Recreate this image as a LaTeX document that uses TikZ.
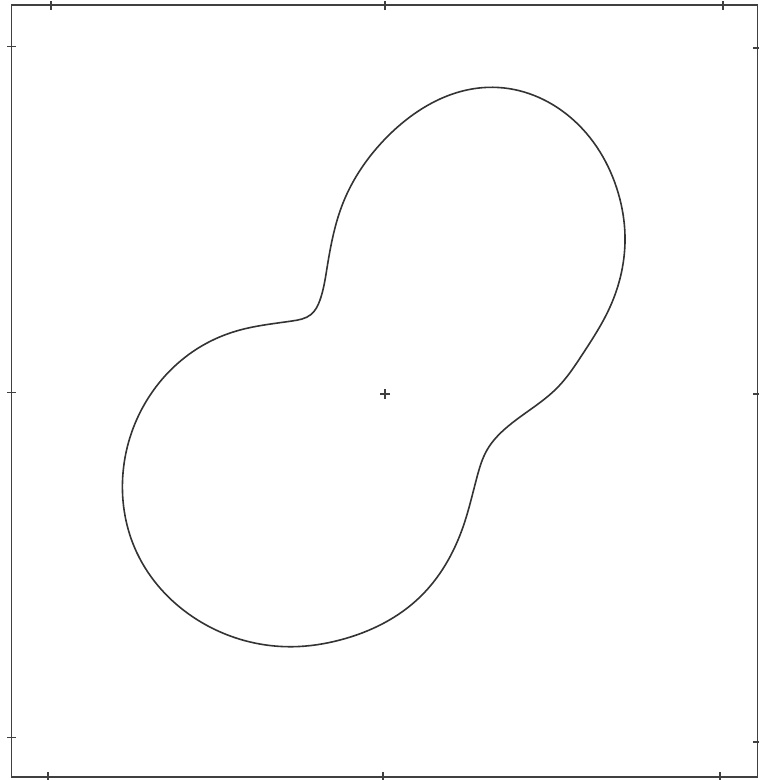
\documentclass[tikz,border=0pt]{standalone}
\usetikzlibrary{hobby}
\begin{document}
\begin{tikzpicture}[x=0.75pt,y=-0.75pt,
  frame/.style={draw=black!75,line width=1.1pt},
  tick/.style={draw=black!75,line width=1.1pt},
  curve/.style={draw=black!80,line width=1.2pt,line join=round}]
\useasboundingbox (0,0) rectangle (759,780);
% frame
\draw[frame] (11.5,5) rectangle (757.5,777);
% ticks top / bottom
\foreach \x in {51,385,723} \draw[tick] (\x,1) -- (\x,10);
\foreach \x in {48,383,720} \draw[tick] (\x,772) -- (\x,780);
% ticks left / right
\foreach \y in {46.5,392.5,737.5} \draw[tick] (7,\y) -- (16,\y);
\foreach \y in {48,394,742} \draw[tick] (753,\y) -- (759,\y);
% centre cross
\coordinate (c) at (385,394);
\draw[tick,line width=0.8pt] ([xshift=-3.5pt]c) -- ([xshift=3.5pt]c);
\draw[tick,line width=0.8pt] ([yshift=-3.5pt]c) -- ([yshift=3.5pt]c);
% peanut curve
\draw[curve,use Hobby shortcut,closed=true]
 (240,330) .. (292,321) .. (311,314.5) .. (320,300) .. (327,268) .. (343,203)
 .. (387,137) .. (493,87.3) .. (570,117) .. (618.3,193.3) .. (625,236)
 .. (610,307) .. (582,355) .. (558,387) .. (506,428) .. (487,450) .. (477,477)
 .. (463,527) .. (420,597) .. (340,640) .. (293,646.7) .. (193,617) .. (137,553)
 .. (122.7,477) .. (147,400) .. (207,343);
\end{tikzpicture}
\end{document}
